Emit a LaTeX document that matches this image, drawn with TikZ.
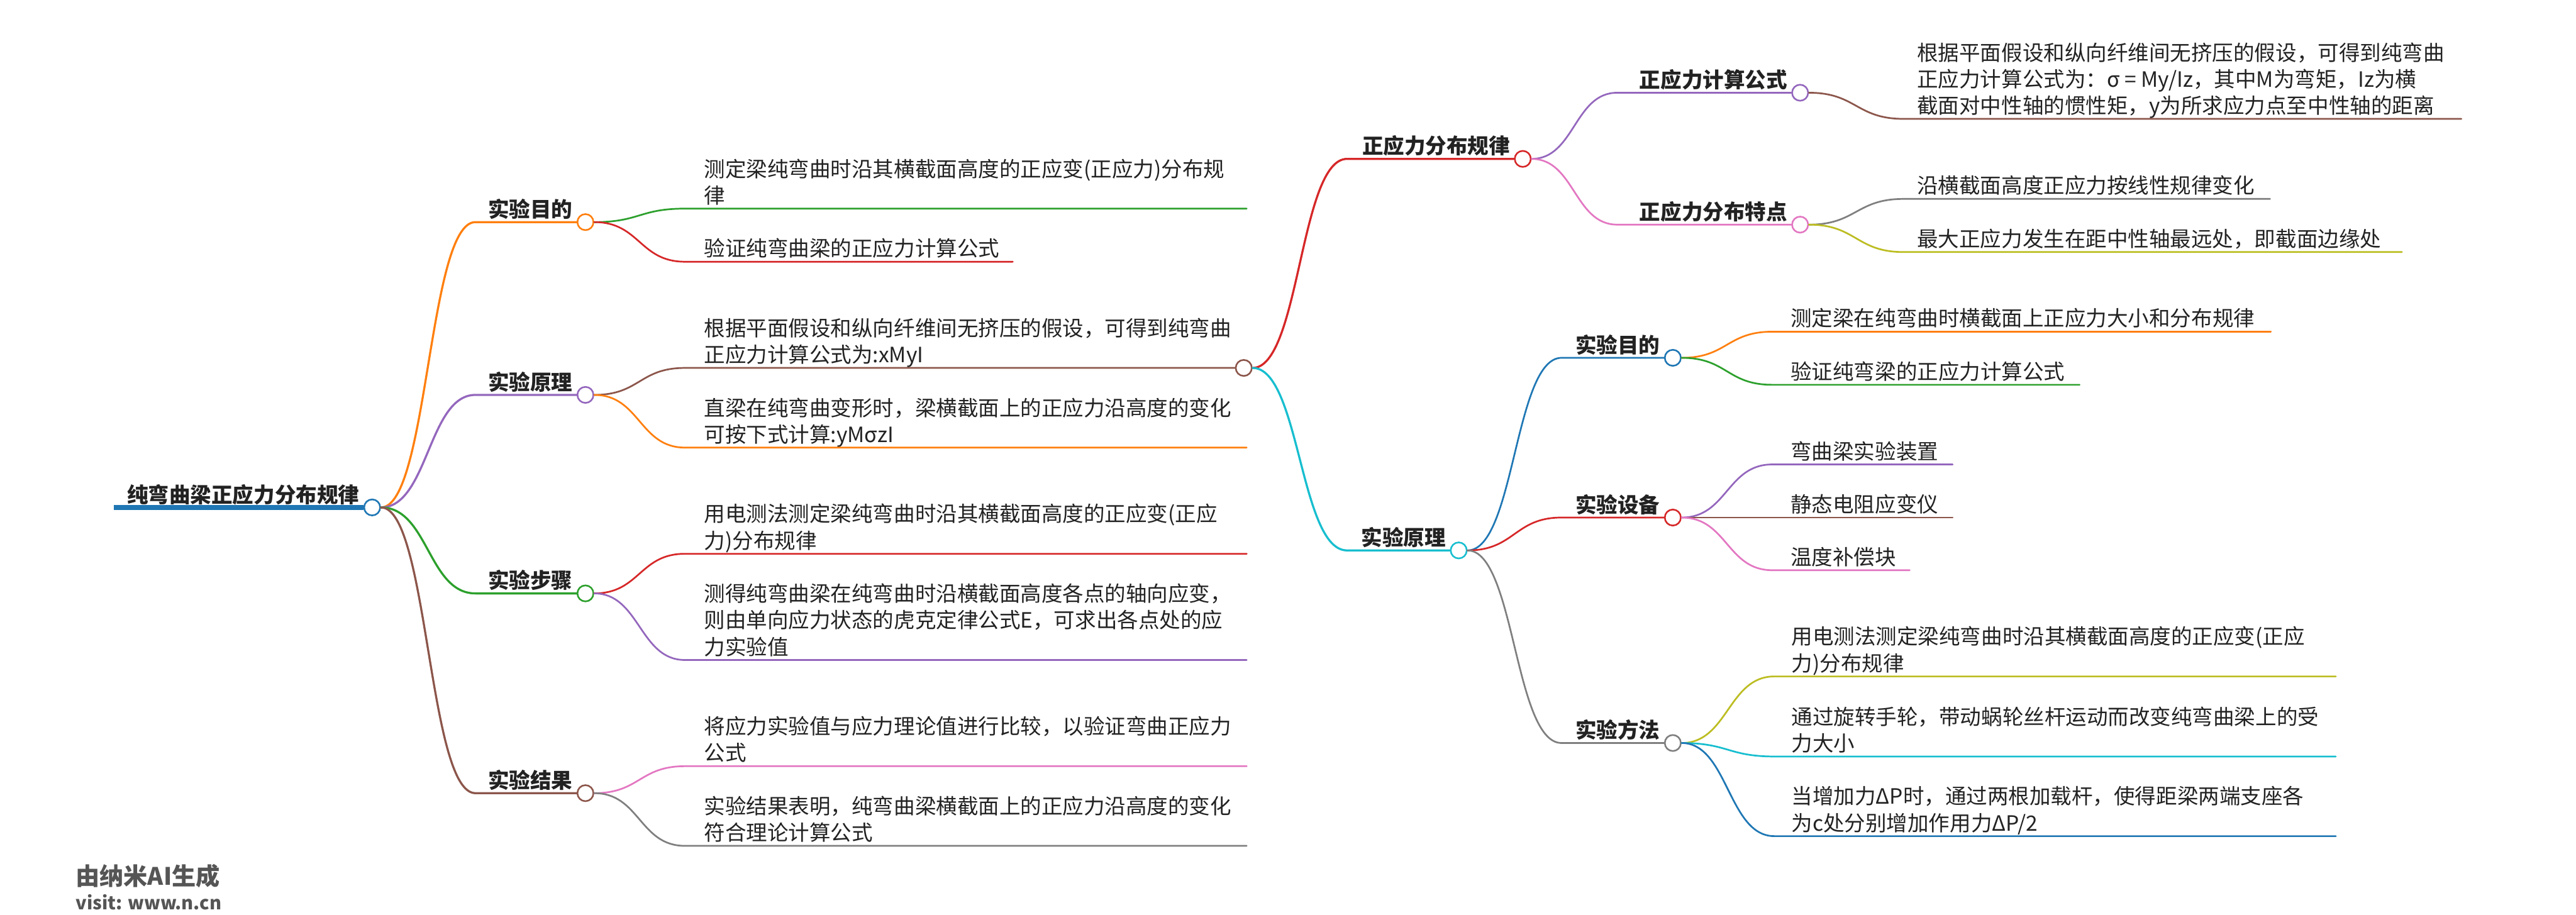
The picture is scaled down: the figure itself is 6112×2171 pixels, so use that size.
\documentclass[tikz,border=0pt]{standalone}
\usepackage{fontspec}
\setmainfont{Noto Sans CJK SC}
\usepackage{xcolor}
\definecolor{mblue}{HTML}{1F77B4}
\definecolor{morange}{HTML}{FF7F0E}
\definecolor{mgreen}{HTML}{2CA02C}
\definecolor{mred}{HTML}{D62728}
\definecolor{mpurple}{HTML}{9467BD}
\definecolor{mbrown}{HTML}{8C564B}
\definecolor{mpink}{HTML}{E377C2}
\definecolor{mgray}{HTML}{7F7F7F}
\definecolor{molive}{HTML}{BCBD22}
\definecolor{mcyan}{HTML}{17BECF}
\definecolor{ink}{HTML}{222222}
\definecolor{wmgray}{HTML}{555555}
\newcommand{\leaffont}{\fontsize{14.23pt}{17.93pt}\selectfont}
\newcommand{\topicfont}{\bfseries\fontsize{14.23pt}{17.93pt}\selectfont}
\tikzset{
  leaf/.style={anchor=south west,inner sep=0pt,align=left,font=\leaffont,text=ink,execute at end node=\strut},
  topic/.style={anchor=south east,inner sep=0pt,font=\topicfont,text=ink,execute at end node=\strut},
  knot/.style={circle,draw=#1,fill=white,line width=1.1pt,minimum size=0.38cm,inner sep=0pt},
  branch/.style={draw=#1,line width=1.4pt,line cap=round},
  twig/.style={draw=#1,line width=1.15pt,line cap=round},
}

\begin{document}
\begin{tikzpicture}[x=0.01cm,y=-0.01cm]
  \useasboundingbox (0,0) rectangle (6112,2171);

  % root
  \coordinate (root-s) at (270,1204);
  \node[knot=mblue] (root) at (883,1204) {};
  \node[topic] (root-t) at ([shift={(-9,8)}]root.west) {纯弯曲梁正应力分布规律};
  \draw[mblue,line width=3.4pt] (root-s) -- (root.west);

  % left topics
  \coordinate (mudi-s) at (1128,527);   \node[knot=morange] (mudi) at (1389,527) {};
  \coordinate (yuanli-s) at (1128,937); \node[knot=mpurple] (yuanli) at (1389,937) {};
  \coordinate (buzhou-s) at (1128,1408); \node[knot=mgreen] (buzhou) at (1389,1408) {};
  \coordinate (jieguo-s) at (1128,1882); \node[knot=mbrown] (jieguo) at (1389,1882) {};
  \node[topic] at ([shift={(-9,8)}]mudi.west) {实验目的};
  \node[topic] at ([shift={(-9,8)}]yuanli.west) {实验原理};
  \node[topic] at ([shift={(-9,8)}]buzhou.west) {实验步骤};
  \node[topic] at ([shift={(-9,8)}]jieguo.west) {实验结果};
  \draw[branch=morange] (root.east) .. controls +(112,0) and +(-112,0) .. (mudi-s) -- (mudi.west);
  \draw[branch=mpurple] (root.east) .. controls +(112,0) and +(-112,0) .. (yuanli-s) -- (yuanli.west);
  \draw[branch=mgreen] (root.east) .. controls +(112,0) and +(-112,0) .. (buzhou-s) -- (buzhou.west);
  \draw[branch=mbrown] (root.east) .. controls +(112,0) and +(-112,0) .. (jieguo-s) -- (jieguo.west);

  % left leaves
  \coordinate (mudi1-s) at (1625,495); \coordinate (mudi1-e) at (2958,495);
  \coordinate (mudi2-s) at (1625,621); \coordinate (mudi2-e) at (2403,621);
  \node[leaf] (mudi1) at (1670,502) {测定梁纯弯曲时沿其横截面高度的正应变(正应力)分布规\\律};
  \node[leaf] (mudi2) at (1670,628) {验证纯弯曲梁的正应力计算公式};
  \draw[twig=mgreen] (mudi.east) .. controls +(108,0) and +(-108,0) .. (mudi1-s) -- (mudi1-e);
  \draw[twig=mred] (mudi.east) .. controls +(108,0) and +(-108,0) .. (mudi2-s) -- (mudi2-e);

  \coordinate (yuanli1-s) at (1625,873); \node[knot=mbrown] (yuanli1) at (2951,873) {};
  \coordinate (yuanli2-s) at (1625,1062); \coordinate (yuanli2-e) at (2958,1062);
  \node[leaf] (yuanli1-t) at (1670,880) {根据平面假设和纵向纤维间无挤压的假设，可得到纯弯曲\\正应力计算公式为:xMyI};
  \node[leaf] (yuanli2) at (1670,1069) {直梁在纯弯曲变形时，梁横截面上的正应力沿高度的变化\\可按下式计算:yMσzI};
  \draw[twig=mbrown] (yuanli.east) .. controls +(108,0) and +(-108,0) .. (yuanli1-s) -- (yuanli1.west);
  \draw[twig=morange] (yuanli.east) .. controls +(108,0) and +(-108,0) .. (yuanli2-s) -- (yuanli2-e);

  \coordinate (buzhou1-s) at (1625,1314); \coordinate (buzhou1-e) at (2958,1314);
  \coordinate (buzhou2-s) at (1625,1566); \coordinate (buzhou2-e) at (2958,1566);
  \node[leaf] (buzhou1) at (1670,1321) {用电测法测定梁纯弯曲时沿其横截面高度的正应变(正应\\力)分布规律};
  \node[leaf] (buzhou2) at (1670,1573) {测得纯弯曲梁在纯弯曲时沿横截面高度各点的轴向应变，\\则由单向应力状态的虎克定律公式E，可求出各点处的应\\力实验值};
  \draw[twig=mred] (buzhou.east) .. controls +(108,0) and +(-108,0) .. (buzhou1-s) -- (buzhou1-e);
  \draw[twig=mpurple] (buzhou.east) .. controls +(108,0) and +(-108,0) .. (buzhou2-s) -- (buzhou2-e);

  \coordinate (jieguo1-s) at (1625,1818); \coordinate (jieguo1-e) at (2958,1818);
  \coordinate (jieguo2-s) at (1625,2007); \coordinate (jieguo2-e) at (2958,2007);
  \node[leaf] (jieguo1) at (1670,1825) {将应力实验值与应力理论值进行比较，以验证弯曲正应力\\公式};
  \node[leaf] (jieguo2) at (1670,2014) {实验结果表明，纯弯曲梁横截面上的正应力沿高度的变化\\符合理论计算公式};
  \draw[twig=mpink] (jieguo.east) .. controls +(108,0) and +(-108,0) .. (jieguo1-s) -- (jieguo1-e);
  \draw[twig=mgray] (jieguo.east) .. controls +(108,0) and +(-108,0) .. (jieguo2-s) -- (jieguo2-e);

  % right topics off the hub
  \coordinate (fenbu-s) at (3196,377); \node[knot=mred] (fenbu) at (3613,377) {};
  \coordinate (yuanliR-s) at (3196,1306); \node[knot=mcyan] (yuanliR) at (3461,1306) {};
  \node[topic] at ([shift={(-9,8)}]fenbu.west) {正应力分布规律};
  \node[topic] at ([shift={(-9,8)}]yuanliR.west) {实验原理};
  \draw[branch=mred] (yuanli1.east) .. controls +(112,0) and +(-112,0) .. (fenbu-s) -- (fenbu.west);
  \draw[branch=mcyan] (yuanli1.east) .. controls +(112,0) and +(-112,0) .. (yuanliR-s) -- (yuanliR.west);

  \coordinate (gongshi-s) at (3837,220); \node[knot=mpurple] (gongshi) at (4271,220) {};
  \coordinate (tedian-s) at (3837,533); \node[knot=mpink] (tedian) at (4271,533) {};
  \node[topic] at ([shift={(-9,8)}]gongshi.west) {正应力计算公式};
  \node[topic] at ([shift={(-9,8)}]tedian.west) {正应力分布特点};
  \draw[twig=mpurple] (fenbu.east) .. controls +(102,0) and +(-102,0) .. (gongshi-s) -- (gongshi.west);
  \draw[twig=mpink] (fenbu.east) .. controls +(102,0) and +(-102,0) .. (tedian-s) -- (tedian.west);

  \coordinate (mudiR-s) at (3705,849); \node[knot=mblue] (mudiR) at (3969,849) {};
  \coordinate (shebei-s) at (3705,1228); \node[knot=mred] (shebei) at (3969,1228) {};
  \coordinate (fangfa-s) at (3705,1763); \node[knot=mgray] (fangfa) at (3969,1763) {};
  \node[topic] at ([shift={(-9,8)}]mudiR.west) {实验目的};
  \node[topic] at ([shift={(-9,8)}]shebei.west) {实验设备};
  \node[topic] at ([shift={(-9,8)}]fangfa.west) {实验方法};
  \draw[twig=mblue] (yuanliR.east) .. controls +(112,0) and +(-112,0) .. (mudiR-s) -- (mudiR.west);
  \draw[twig=mred] (yuanliR.east) .. controls +(112,0) and +(-112,0) .. (shebei-s) -- (shebei.west);
  \draw[twig=mgray] (yuanliR.east) .. controls +(112,0) and +(-112,0) .. (fangfa-s) -- (fangfa.west);

  % right leaves
  \coordinate (gongshi1-s) at (4516,282); \coordinate (gongshi1-e) at (5840,282);
  \node[leaf] (gongshi1) at (4548,289) {根据平面假设和纵向纤维间无挤压的假设，可得到纯弯曲\\正应力计算公式为：σ = My/Iz，其中M为弯矩，Iz为横\\截面对中性轴的惯性矩，y为所求应力点至中性轴的距离};
  \draw[twig=mbrown] (gongshi.east) .. controls +(112,0) and +(-112,0) .. (gongshi1-s) -- (gongshi1-e);

  \coordinate (tedian1-s) at (4516,472); \coordinate (tedian1-e) at (5386,472);
  \coordinate (tedian2-s) at (4516,598); \coordinate (tedian2-e) at (5699,598);
  \node[leaf] (tedian1) at (4548,479) {沿横截面高度正应力按线性规律变化};
  \node[leaf] (tedian2) at (4548,605) {最大正应力发生在距中性轴最远处，即截面边缘处};
  \draw[twig=mgray] (tedian.east) .. controls +(112,0) and +(-112,0) .. (tedian1-s) -- (tedian1-e);
  \draw[twig=molive] (tedian.east) .. controls +(112,0) and +(-112,0) .. (tedian2-s) -- (tedian2-e);

  \coordinate (mudiR1-s) at (4205,787); \coordinate (mudiR1-e) at (5388,787);
  \coordinate (mudiR2-s) at (4205,913); \coordinate (mudiR2-e) at (4934,913);
  \node[leaf] (mudiR1) at (4248,794) {测定梁在纯弯曲时横截面上正应力大小和分布规律};
  \node[leaf] (mudiR2) at (4248,920) {验证纯弯梁的正应力计算公式};
  \draw[twig=morange] (mudiR.east) .. controls +(108,0) and +(-108,0) .. (mudiR1-s) -- (mudiR1-e);
  \draw[twig=mgreen] (mudiR.east) .. controls +(108,0) and +(-108,0) .. (mudiR2-s) -- (mudiR2-e);

  \coordinate (shebei1-s) at (4205,1102); \coordinate (shebei1-e) at (4633,1102);
  \coordinate (shebei2-s) at (4205,1228); \coordinate (shebei2-e) at (4633,1228);
  \coordinate (shebei3-s) at (4205,1353); \coordinate (shebei3-e) at (4531,1353);
  \node[leaf] (shebei1) at (4248,1109) {弯曲梁实验装置};
  \node[leaf] (shebei2) at (4248,1235) {静态电阻应变仪};
  \node[leaf] (shebei3) at (4248,1360) {温度补偿块};
  \draw[twig=mpurple] (shebei.east) .. controls +(108,0) and +(-108,0) .. (shebei1-s) -- (shebei1-e);
  \draw[twig=mbrown] (shebei.east) -- (shebei2-e);
  \draw[twig=mpink] (shebei.east) .. controls +(108,0) and +(-108,0) .. (shebei3-s) -- (shebei3-e);

  \coordinate (fangfa1-s) at (4210,1605); \coordinate (fangfa1-e) at (5542,1605);
  \coordinate (fangfa2-s) at (4210,1795); \coordinate (fangfa2-e) at (5542,1795);
  \coordinate (fangfa3-s) at (4210,1984); \coordinate (fangfa3-e) at (5542,1984);
  \node[leaf] (fangfa1) at (4250,1612) {用电测法测定梁纯弯曲时沿其横截面高度的正应变(正应\\力)分布规律};
  \node[leaf] (fangfa2) at (4250,1802) {通过旋转手轮，带动蜗轮丝杆运动而改变纯弯曲梁上的受\\力大小};
  \node[leaf] (fangfa3) at (4250,1991) {当增加力ΔP时，通过两根加载杆，使得距梁两端支座各\\为c处分别增加作用力ΔP/2};
  \draw[twig=molive] (fangfa.east) .. controls +(110,0) and +(-110,0) .. (fangfa1-s) -- (fangfa1-e);
  \draw[twig=mcyan] (fangfa.east) .. controls +(110,0) and +(-110,0) .. (fangfa2-s) -- (fangfa2-e);
  \draw[twig=mblue] (fangfa.east) .. controls +(110,0) and +(-110,0) .. (fangfa3-s) -- (fangfa3-e);

  % watermark
  \node[anchor=base west,inner sep=0pt,font=\bfseries\fontsize{16.2pt}{19pt}\selectfont,text=wmgray] (mark) at (179,2100) {由纳米AI生成};
  \node[anchor=base west,inner sep=0pt,font=\bfseries\fontsize{12.3pt}{15pt}\selectfont,text=wmgray] (visit) at (179,2158) {visit: www.n.cn};
\end{tikzpicture}
\end{document}
